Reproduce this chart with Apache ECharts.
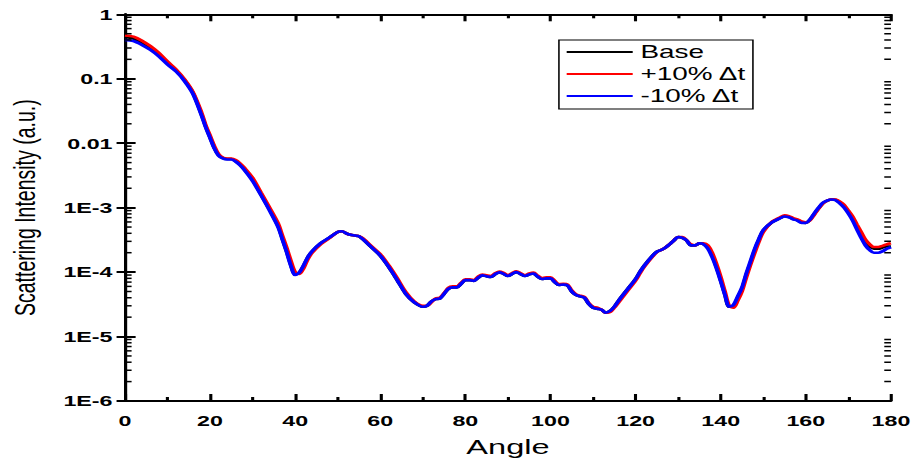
<!DOCTYPE html>
<html>
<head>
<meta charset="utf-8">
<script src="https://cdn.jsdelivr.net/npm/echarts@6/dist/echarts.min.js"></script>
<style>
  html, body { margin: 0; padding: 0; background: #fff; overflow: hidden; }
  /* The plot is laid out in a narrower box and widened on screen,
     which gives the broad lettering of the original figure. */
  #chart { width: 590px; height: 458px; transform: scaleX(1.55); transform-origin: 0 0; }
</style>
</head>
<body>
<div id="chart"></div>
<script>
// Scattering angle (degrees)
const angles = [
  0, 2, 4, 6, 8, 10, 12, 14, 16, 18,
  19, 20, 21, 22, 23, 24, 25, 26, 27, 28,
  30, 32, 34, 36, 37, 38, 39, 40, 41, 42,
  43, 44, 46, 48, 50, 51, 52, 53, 54, 55,
  56, 58, 60, 62, 64, 66, 68, 70, 71, 72,
  73, 74, 75, 76, 77, 78, 79, 80, 81, 82,
  83, 84, 85, 86, 87, 88, 89, 90, 91, 92,
  93, 94, 95, 96, 97, 98, 99, 100, 101, 102,
  103, 104, 105, 106, 107, 108, 109, 110, 111, 112,
  113, 114, 115, 116, 118, 120, 121, 122, 124, 125,
  126, 127, 128, 129, 130, 131, 132, 133, 134, 135,
  136, 137, 138, 139, 140, 141, 142, 143, 144, 145,
  146, 147, 148, 149, 150, 152, 154, 155, 156, 157,
  158, 159, 160, 161, 162, 163, 164, 165, 166, 167,
  168, 169, 170, 171, 172, 173, 174, 175, 176, 177,
  178, 179, 180
];

// Scattering intensity (a.u.), base thickness
const base = [
  0.44, 0.42, 0.36, 0.30, 0.235, 0.175, 0.135, 0.095, 0.060, 0.028,
  0.018, 0.0124, 0.0085, 0.0065, 0.0059, 0.0057, 0.0057, 0.0053, 0.0047, 0.0040,
  0.0027, 0.0016, 0.00093, 0.00052, 0.00033, 0.00021, 0.00013, 0.000092, 0.000098, 0.000125,
  0.00017, 0.00021, 0.00028, 0.00034, 0.00042, 0.00043, 0.00040, 0.00038, 0.00037, 0.00036,
  0.00032, 0.00024, 0.00018, 0.00012, 0.000075, 0.000046, 0.000034, 0.000029, 0.000030, 0.000035,
  0.000038, 0.000039, 0.000046, 0.000055, 0.000058, 0.000058, 0.000066, 0.000075, 0.000075, 0.000073,
  0.000082, 0.000089, 0.000086, 0.000084, 0.000093, 0.000099, 0.000094, 0.000087, 0.000094, 0.000100,
  0.000093, 0.000087, 0.000092, 0.000095, 0.000085, 0.000078, 0.000080, 0.000080, 0.000070, 0.000063,
  0.000064, 0.000062, 0.000050, 0.000044, 0.000042, 0.000040, 0.000032, 0.000028, 0.000027, 0.000026,
  0.0000235, 0.000025, 0.000029, 0.000036, 0.000053, 0.000078, 0.000100, 0.000125, 0.00018, 0.000207,
  0.00022, 0.00024, 0.00027, 0.00031, 0.00035, 0.00034, 0.00031, 0.00026, 0.00026, 0.00028,
  0.00027, 0.00024, 0.00018, 0.00012, 0.000075, 0.000045, 0.000029, 0.000030, 0.000040, 0.000055,
  0.000090, 0.00014, 0.00022, 0.00032, 0.00044, 0.00059, 0.00069, 0.00074, 0.00072, 0.00067,
  0.00064, 0.00059, 0.00058, 0.00065, 0.00080, 0.00098, 0.00117, 0.00128, 0.00134, 0.00132,
  0.00120, 0.00105, 0.00085, 0.00068, 0.00050, 0.00038, 0.00029, 0.00025, 0.00023, 0.00023,
  0.00024, 0.00025, 0.00025
];

// Thickness increased by 10 %
const plus10 = [
  0.47, 0.45, 0.39, 0.32, 0.25, 0.185, 0.14, 0.098, 0.062, 0.030,
  0.019, 0.0132, 0.0091, 0.0068, 0.0060, 0.0058, 0.0058, 0.0055, 0.0049, 0.0042,
  0.0029, 0.0017, 0.00100, 0.00057, 0.00037, 0.00024, 0.000150, 0.000100, 0.000094, 0.000115,
  0.000160, 0.000200, 0.000270, 0.000335, 0.00042, 0.00043, 0.00040, 0.00038, 0.00037, 0.00036,
  0.00033, 0.00025, 0.00019, 0.000127, 0.000080, 0.000049, 0.000035, 0.000030, 0.000030, 0.000034,
  0.000039, 0.000040, 0.000047, 0.000057, 0.000060, 0.000060, 0.000068, 0.000077, 0.000077, 0.000075,
  0.000085, 0.000092, 0.000089, 0.000087, 0.000096, 0.000102, 0.000097, 0.000090, 0.000097, 0.000103,
  0.000096, 0.000090, 0.000095, 0.000098, 0.000088, 0.000081, 0.000083, 0.000083, 0.000073, 0.000065,
  0.000066, 0.000064, 0.000052, 0.000045, 0.000043, 0.000041, 0.000033, 0.000029, 0.000028, 0.000026,
  0.0000235, 0.000024, 0.000028, 0.000034, 0.000050, 0.000074, 0.000095, 0.000120, 0.000175, 0.000205,
  0.00022, 0.00024, 0.00027, 0.00031, 0.00035, 0.00035, 0.00031, 0.00027, 0.00026, 0.00028,
  0.00028, 0.00026, 0.00020, 0.000135, 0.000085, 0.000050, 0.000030, 0.000028, 0.000036, 0.000050,
  0.000082, 0.00013, 0.00020, 0.00030, 0.00042, 0.00060, 0.00071, 0.00076, 0.00074, 0.00069,
  0.00066, 0.00061, 0.00059, 0.00064, 0.00078, 0.00096, 0.00116, 0.00128, 0.00135, 0.00134,
  0.00124, 0.00110, 0.00090, 0.00073, 0.00055, 0.00042, 0.00032, 0.00027, 0.000245, 0.000245,
  0.000255, 0.00027, 0.00028
];

// Thickness reduced by 10 %
const minus10 = [
  0.40, 0.385, 0.335, 0.28, 0.222, 0.167, 0.13, 0.092, 0.058, 0.027,
  0.0175, 0.0121, 0.0083, 0.0064, 0.0058, 0.0056, 0.0056, 0.0052, 0.0046, 0.0039,
  0.0026, 0.00155, 0.00090, 0.00050, 0.00032, 0.000205, 0.000125, 0.000090, 0.000099, 0.000128,
  0.000172, 0.000212, 0.000282, 0.000342, 0.00042, 0.00043, 0.00040, 0.00038, 0.00037, 0.00036,
  0.00032, 0.00024, 0.00018, 0.00012, 0.000075, 0.000046, 0.000034, 0.000029, 0.000030, 0.000035,
  0.000038, 0.000039, 0.000046, 0.000055, 0.000058, 0.000058, 0.000066, 0.000075, 0.000075, 0.000073,
  0.000082, 0.000089, 0.000086, 0.000084, 0.000093, 0.000099, 0.000094, 0.000087, 0.000094, 0.000100,
  0.000093, 0.000087, 0.000092, 0.000095, 0.000085, 0.000078, 0.000080, 0.000080, 0.000070, 0.000063,
  0.000064, 0.000062, 0.000050, 0.000044, 0.000042, 0.000040, 0.000032, 0.000028, 0.000027, 0.000026,
  0.0000235, 0.000025, 0.000029, 0.000036, 0.000053, 0.000078, 0.000100, 0.000125, 0.00018, 0.000207,
  0.00022, 0.00024, 0.00027, 0.00031, 0.00035, 0.00034, 0.00031, 0.00026, 0.00026, 0.00028,
  0.00027, 0.00023, 0.00017, 0.000115, 0.000072, 0.000044, 0.000029, 0.000031, 0.000042, 0.000058,
  0.000095, 0.000148, 0.00023, 0.00033, 0.00045, 0.00059, 0.00069, 0.00073, 0.00071, 0.00066,
  0.00063, 0.00058, 0.00058, 0.00066, 0.00082, 0.00100, 0.00119, 0.00129, 0.00134, 0.00130,
  0.00116, 0.00100, 0.00081, 0.00063, 0.00046, 0.00034, 0.00026, 0.00022, 0.00020, 0.000200,
  0.00021, 0.00023, 0.000245
];

const seriesNames = ['Base', '+10% \u0394t', '-10% \u0394t'];
const seriesColors = ['#000000', '#ff0000', '#0000ff'];
const seriesValues = [base, plus10, minus10];

// Intermediate ticks 2..9 inside every decade of the intensity axis
const decadeMultipliers = [2, 3, 4, 5, 6, 7, 8, 9];
const decadeExponents = [-6, -5, -4, -3, -2, -1];
const minorTickValues = [];
decadeExponents.forEach(e => decadeMultipliers.forEach(m => minorTickValues.push(m * Math.pow(10, e))));

const FONT = '"Liberation Sans", Arial, Helvetica, sans-serif';

function logLabel(v) {
  const e = Math.round(Math.log10(v));
  if (e === 0) return '1';
  if (e === -1) return '0.1';
  if (e === -2) return '0.01';
  return '1E' + e;
}

const frameLine = { show: true, lineStyle: { color: '#000', width: 2 } };

const chart = echarts.init(document.getElementById('chart'), null, { renderer: 'svg' });

const lineSeries = seriesNames.map((name, k) => ({
  name: name,
  type: 'line',
  xAxisIndex: 0,
  yAxisIndex: 0,
  symbol: 'none',
  showSymbol: false,
  smooth: 0.3,
  color: seriesColors[k],
  lineStyle: { color: seriesColors[k], width: 2.6 },
  z: 2 + k,
  data: angles.map((a, i) => [a, seriesValues[k][i]])
}));

// Short inward marks on the left and right frame at the intermediate log values
const minorTickSeries = {
  type: 'custom',
  xAxisIndex: 0,
  yAxisIndex: 0,
  silent: true,
  clip: false,
  z: 10,
  data: minorTickValues.map(v => [0, v]),
  renderItem: (params, api) => {
    const left = api.coord([0, api.value(1)]);
    const right = api.coord([180, api.value(1)]);
    const len = 4.3;
    return {
      type: 'group',
      children: [
        { type: 'line', shape: { x1: left[0], y1: left[1], x2: left[0] + len, y2: left[1] },
          style: { stroke: '#000', lineWidth: 1.5 } },
        { type: 'line', shape: { x1: right[0], y1: right[1], x2: right[0] - len, y2: right[1] },
          style: { stroke: '#000', lineWidth: 1.5 } }
      ]
    };
  }
};

chart.setOption({
  animation: false,
  backgroundColor: '#ffffff',
  grid: { left: 80.6, right: 15.2, top: 14.3, bottom: 57, containLabel: false, outerBoundsMode: 'none' },
  legend: {
    orient: 'vertical',
    left: 360.6,
    top: 40,
    padding: [3, 4, 4, 5],
    itemGap: 4,
    itemWidth: 42.6,
    itemHeight: 2,
    icon: 'rect',
    borderColor: '#000',
    borderWidth: 1,
    backgroundColor: '#fff',
    textStyle: { fontFamily: FONT, fontSize: 18, color: '#000' },
    data: seriesNames
  },
  xAxis: [
    {
      type: 'value', min: 0, max: 180, interval: 20, position: 'bottom',
      axisLine: frameLine,
      axisTick: { show: true, inside: true, length: 7, lineStyle: { color: '#000', width: 2 } },
      minorTick: { show: true, splitNumber: 2, length: 4, lineStyle: { color: '#000', width: 2 } },
      splitLine: { show: false },
      axisLabel: { margin: 12, color: '#000', fontFamily: FONT, fontWeight: 'bold', fontSize: 15 },
      name: 'Angle', nameLocation: 'middle', nameGap: 35,
      nameTextStyle: { fontFamily: FONT, fontSize: 21, color: '#000' }
    },
    {
      type: 'value', min: 0, max: 180, interval: 20, position: 'top',
      axisLine: frameLine,
      axisTick: { show: true, inside: true, length: 7, lineStyle: { color: '#000', width: 2 } },
      minorTick: { show: true, splitNumber: 2, length: 4, lineStyle: { color: '#000', width: 2 } },
      splitLine: { show: false },
      axisLabel: { show: false }
    }
  ],
  yAxis: [
    {
      type: 'log', logBase: 10, min: 1e-6, max: 1, splitNumber: 6, position: 'left',
      axisLine: frameLine,
      axisTick: { show: true, inside: true, length: 6.9, lineStyle: { color: '#000', width: 2 } },
      minorTick: { show: false },
      splitLine: { show: false },
      axisLabel: { margin: 8, color: '#000', fontFamily: FONT, fontWeight: 'bold', fontSize: 15, formatter: logLabel },
      name: 'Scattering Intensity (a.u.)', nameLocation: 'middle', nameGap: 55,
      nameTextStyle: { fontFamily: FONT, fontSize: 19.5, color: '#000' }
    },
    {
      type: 'log', logBase: 10, min: 1e-6, max: 1, splitNumber: 6, position: 'right',
      axisLine: frameLine,
      axisTick: { show: true, inside: true, length: 5.4, lineStyle: { color: '#000', width: 2 } },
      minorTick: { show: false },
      splitLine: { show: false },
      axisLabel: { show: false }
    }
  ],
  series: lineSeries.concat([minorTickSeries])
});
</script>
</body>
</html>
